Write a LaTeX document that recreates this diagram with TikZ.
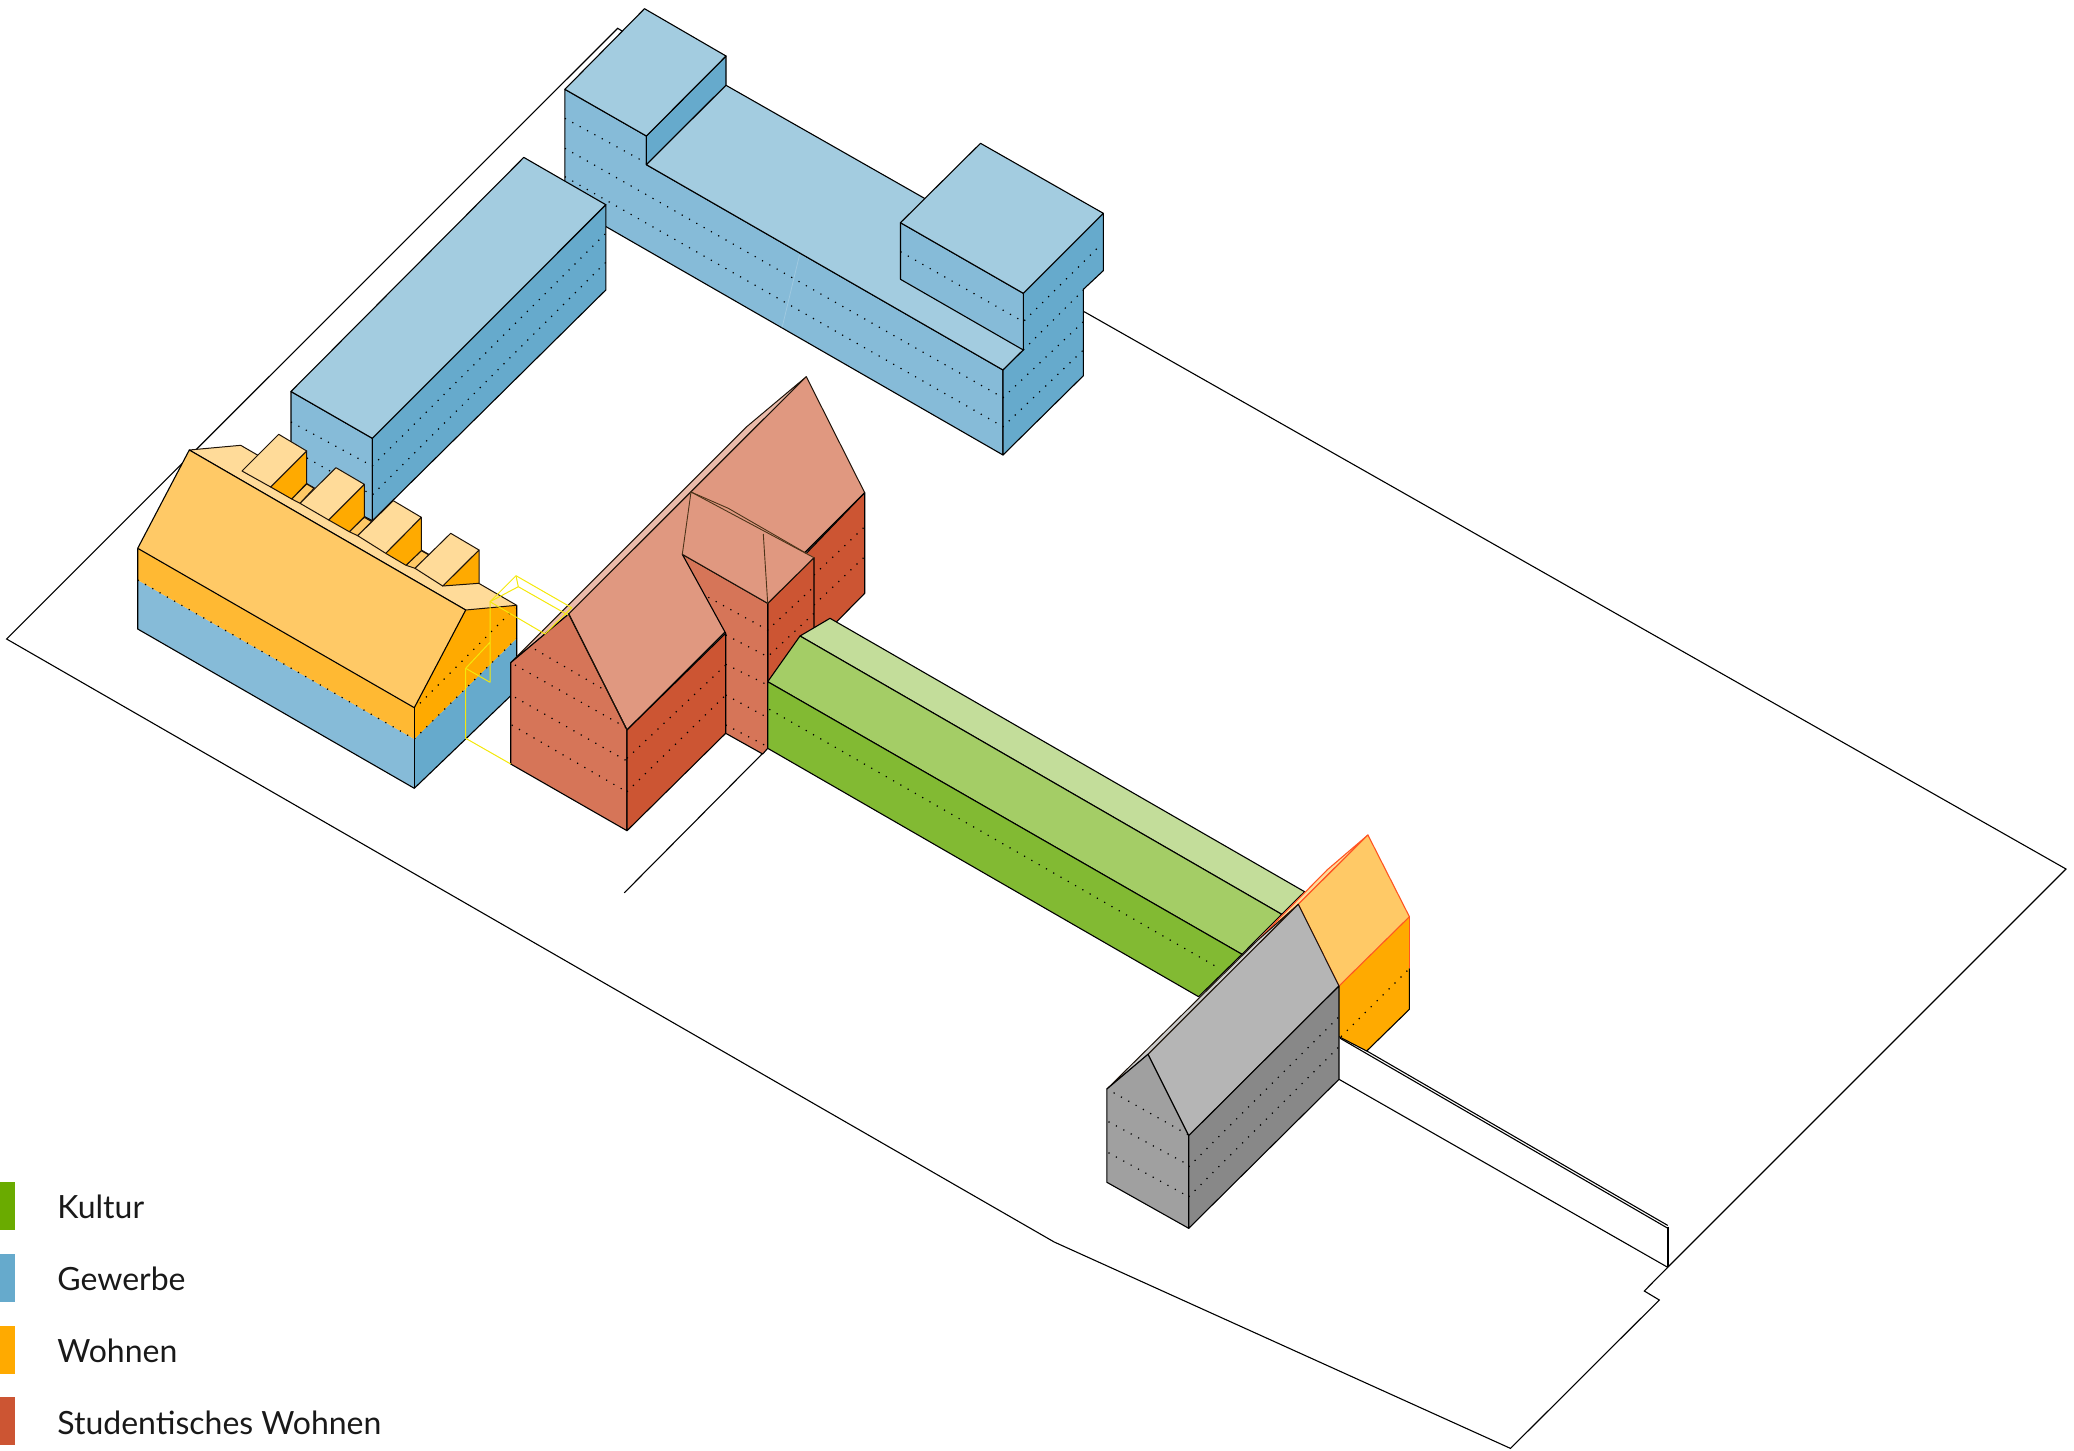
\documentclass[tikz,border=0pt]{standalone}
\usepackage{fontspec}
\setmainfont{Lato}
\definecolor{cBlueF}{HTML}{86BBD8}
\definecolor{cBlueS}{HTML}{66AACC}
\definecolor{cBlueT}{HTML}{A3CCE0}
\definecolor{cOrS}{HTML}{FFAA00}
\definecolor{cOrF}{HTML}{FFB933}
\definecolor{cOrT}{HTML}{FFC966}
\definecolor{cOrL}{HTML}{FFDB99}
\definecolor{cRedS}{HTML}{CC5533}
\definecolor{cRedF}{HTML}{D67558}
\definecolor{cRedT}{HTML}{E09880}
\definecolor{cRedL}{HTML}{EBBBAA}
\definecolor{cGrS}{HTML}{82BA33}
\definecolor{cGrT}{HTML}{A4CD66}
\definecolor{cGrL}{HTML}{C3DD9A}
\definecolor{cGyS}{HTML}{888888}
\definecolor{cGyF}{HTML}{A0A0A0}
\definecolor{cGyT}{HTML}{B5B5B5}
\definecolor{cGyL}{HTML}{CCCCCC}
\definecolor{cKult}{HTML}{6AAB00}
\definecolor{cEdge}{HTML}{FF5522}
\tikzset{
  face/.style={draw=black,line width=.55pt,line join=round},
  softface/.style={draw=black!85!brown,line width=.5pt,line join=round},
  dots/.style={draw=black,line width=.6pt,dash pattern=on .6pt off 3.6pt},
  site/.style={draw=black,line width=.55pt,line join=miter},
  ghost/.style={draw=yellow!95!black,line width=.5pt,line join=round},
  thinbrown/.style={draw=black!60!brown,line width=.45pt},
  swatch/.style={draw=none,minimum width=7.5pt,minimum height=24pt,inner sep=0pt,anchor=north west},
  legend/.style={anchor=base west,inner sep=0pt,font=\fontsize{16}{18}\selectfont,text=black!90}
}
\begin{document}
\begin{tikzpicture}[x=.5pt,y=-.5pt]
\useasboundingbox (0,0) rectangle (2074,1451);
% site
\draw[site] (622,31)--(617.7,28.3)--(6.6,639)--(1054.2,1242)--(1510.5,1448.4)--(1659.3,1300)--(1644.3,1291)--(1667.7,1267.3)--(2066,869)--(1084.2,311.7);
\draw[site] (624.3,892.8)--(762.7,753.3);
% narrow wall
\draw[site] (1339,1079.3)--(1667.7,1267.3);
\draw[site,line width=.9pt] (1667.7,1226.7)--(1667.7,1267.3);
\draw[site] (1340,1035.4)--(1667.7,1225.4);
\draw[site] (1340,1038.2)--(1667.7,1228.2);
% main blue
\path[face,fill=cBlueF] (564.9,89.3)--(646.4,136)--(646.4,164.7)--(1003,370)--(1003,455)--(564.9,203)--cycle;
\draw[draw=white,opacity=.2,line width=.4pt] (799.5,255)--(781.9,328.3);
\path[face,fill=cBlueS] (646.4,136)--(726,56)--(726,85.3)--(646.4,164.7)--cycle;
\path[face,fill=cBlueT] (644.5,8.7)--(726,56)--(646.4,136)--(564.9,89.3)--cycle;
\path[face,fill=cBlueT] (646.4,164.7)--(726,85.3)--(1060,275.5)--(1023.3,350)--(1003,370)--cycle;
\path[face,fill=cBlueS] (1023.3,293.3)--(1103.3,213.3)--(1103.3,270.7)--(1083.4,289.3)--(1083.4,375.7)--(1003,455)--(1003,370)--(1023.3,350)--cycle;
\path[face,fill=cBlueF] (900.5,222.7)--(1023.3,293.3)--(1023.3,350)--(900.5,279.3)--cycle;
\path[face,fill=cBlueT] (980.5,143.3)--(1103.3,213.3)--(1023.3,293.3)--(900.5,222.7)--cycle;
\draw[dots] (564.9,118.3)--(646.4,163);
\draw[dots] (564.9,148.3)--(1003,397.7)--(1083.4,321.7);
\draw[dots] (564.9,176.7)--(1003,426.7)--(1083.4,350);
\draw[dots] (900.5,251.7)--(1023.3,321.7)--(1100.6,245);
\draw[dots] (1023.3,350)--(1083.4,290);
% left blue
\path[face,fill=cBlueF] (291,391.5)--(372.3,438.3)--(372.3,520.7)--(291,478)--cycle;
\path[face,fill=cBlueS] (372.3,438.3)--(605.8,204.7)--(605.8,290)--(372.3,520.7)--cycle;
\path[face,fill=cBlueT] (523.8,157.4)--(605.8,204.7)--(372.3,438.3)--(291,391.5)--cycle;
\draw[dots] (291,422)--(372.3,466)--(605.8,233.3);
\draw[dots] (307,458)--(372.3,495)--(605.8,262.3);
% orange building
\fill[cBlueF] (137.7,580)--(414.3,739)--(414.3,788.3)--(137.7,629)--cycle;
\fill[cBlueS] (414.3,739)--(516.7,638.3)--(516.7,690)--(414.3,788.3)--cycle;
\fill[cOrF] (137.7,548.3)--(414.3,707.7)--(414.3,739)--(137.7,580)--cycle;
\fill[cOrS] (414.3,707.7)--(465.7,610)--(516.7,605.3)--(516.7,638.3)--(414.3,739)--cycle;
\draw[face] (137.7,548.3)--(137.7,629)--(414.3,788.3)--(516.7,690)--(516.7,605.3);
\draw[face] (414.3,707.7)--(414.3,788.3);
\path[softface,fill=cOrL] (189.3,450)--(240.7,445.3)--(516.7,605.3)--(465.7,610)--cycle;
\path[face,fill=cOrT] (189.3,450)--(465.7,610)--(414.3,707.7)--(137.7,548.3)--cycle;
\draw[dots] (137.7,580)--(414.3,739)--(516.7,638.3);
\draw[dots] (420,703.3)--(515,608);
% strips between dormers
\path[softface,fill=cOrT] (291.7,499)--(306.7,484)--(314,488.3)--(300,503.3)--cycle;
\path[softface,fill=cOrT] (349.3,531.7)--(364.3,517.3)--(371.7,521.7)--(357.7,535.7)--cycle;
\path[softface,fill=cOrT] (406,565.3)--(421.3,550.7)--(429,555)--(415,568.3)--cycle;
% dormers
\path[softface,fill=cOrS] (270.7,487)--(306.7,451)--(306.7,483.3)--(291.7,499)--cycle;
\path[softface,fill=cOrL] (242,471)--(278.7,434.3)--(306.7,451)--(270.7,487)--cycle;
\path[softface,fill=cOrS] (328.7,520)--(364.3,484.3)--(364.3,516.7)--(349.3,531.7)--cycle;
\path[softface,fill=cOrL] (300,503.3)--(336,467.7)--(364.3,484.3)--(328.7,520)--cycle;
\path[softface,fill=cOrS] (385.7,553.3)--(421.3,517.3)--(421.3,550.7)--(406,565.3)--cycle;
\path[softface,fill=cOrL] (357.7,535.7)--(393.3,500.7)--(421.3,517.3)--(385.7,553.3)--cycle;
\path[softface,fill=cOrS] (442.7,586)--(479,550)--(479,583.3)--cycle;
\path[softface,fill=cOrL] (415,568.3)--(450.7,533.3)--(479,550)--(442.7,586)--cycle;
% red far part
\path[face,fill=cRedS] (806.3,553.3)--(864.7,492.7)--(864.7,593.3)--(836.7,621.7)--(814,634)--(800,636)--cycle;
\path[softface,fill=cRedL] (510.7,662.7)--(746.7,426.7)--(806.3,376.7)--(568.7,614)--cycle;
\path[softface,fill=cRedT] (568.7,614)--(806.3,376.7)--(864.7,492.7)--(627,730)--cycle;
\draw[face] (864.7,492.7)--(627,730);
\draw[dots] (814,575)--(864.7,526.7);
\draw[dots] (814,605)--(864.7,556.7);
% red front gable
\path[face,fill=cRedF] (510.7,662.7)--(568.7,614)--(627,730)--(627,830.7)--(510.7,764)--cycle;
\path[face,fill=cRedS] (627,730)--(725.7,633.3)--(725.7,733.3)--(627,830.7)--cycle;
\draw[softface] (568.7,614)--(627,730);
\draw[dots] (535,649.3)--(601.7,688.3);
\draw[dots] (515,665)--(627,728);
\draw[dots] (515,697.3)--(627,761);
\draw[dots] (511.7,725)--(627,792);
\draw[dots] (627,758.3)--(725.7,665);
\draw[dots] (627,791.7)--(725.7,695);
% red middle part
\path[face,fill=cRedS] (767.7,603.3)--(814,557.7)--(814,640)--(767.7,690)--cycle;
\path[face,fill=cRedF] (682.3,554.3)--(767.7,603.3)--(767.7,748.3)--(762.7,754)--(725.7,733.3)--(725.7,633.3)--cycle;
\path[fill=cRedT] (691,492)--(814,557.7)--(767.7,603.3)--(682.3,554.3)--cycle;
\draw[softface] (682.3,554.3)--(767.7,603.3)--(814,557.7);
\draw[thinbrown] (682.3,554.3)--(691,492)--(814,557.7);
\draw[thinbrown] (691,492)--(728.3,508.3)--(806.3,553.3);
\draw[thinbrown] (763.3,534)--(767.7,603.3);
\draw[dots] (708.3,597.3)--(767.7,630)--(814,586.7);
\draw[dots] (725.7,635)--(767.7,656.7)--(814,613.3);
\draw[dots] (725.7,664.3)--(767.7,685);
\draw[dots] (725.7,695)--(767.7,717.7);
\draw[dots] (725.7,725)--(767.7,746.7);
% green
\path[face,fill=cGrL] (800,636)--(830,618.3)--(1304.6,891.7)--(1281.7,914.3)--cycle;
\path[face,fill=cGrT] (767.7,681.7)--(800,636)--(1281.7,914.3)--(1242,954.3)--cycle;
\path[face,fill=cGrS] (767.7,681.7)--(1242,954.3)--(1198.6,996.7)--(767.7,748.3)--cycle;
\draw[dots] (769.3,709.3)--(1220.4,969);
% far orange gable
\path[draw=cEdge,line width=.55pt,line join=round,fill=cOrL] (1258,940)--(1327,870)--(1367.9,835)--(1298.3,904.3)--cycle;
\path[fill=cOrS] (1339,986)--(1409.4,916.7)--(1409.4,1009.3)--(1366.7,1051)--(1339,1036.7)--cycle;
\draw[face] (1409.4,968.3)--(1409.4,1009.3)--(1366.7,1051)--(1339,1036.7);
\draw[cEdge,line width=.7pt] (1409.4,968.3)--(1409.4,916.7);
\path[draw=cEdge,line width=.55pt,line join=round,fill=cOrT] (1298.3,904.3)--(1367.9,835)--(1409.4,916.7)--(1339,986)--cycle;
\draw[dots] (1341,1036.7)--(1408,970);
% gray
\path[softface,fill=cGyL] (1106.9,1089)--(1258,940)--(1298.3,904.3)--(1148,1054.3)--cycle;
\path[softface,fill=cGyT] (1148,1054.3)--(1298.3,904.3)--(1339,986)--(1188.7,1135.7)--cycle;
\path[face,fill=cGyF] (1106.9,1089)--(1148,1054.3)--(1188.7,1135.7)--(1188.7,1228.3)--(1106.9,1182.3)--cycle;
\path[face,fill=cGyS] (1188.7,1135.7)--(1339,986)--(1339,1079.3)--(1188.7,1228.3)--cycle;
\draw[dots] (1113.6,1092.7)--(1188.7,1135);
\draw[dots] (1108.5,1121.7)--(1188.7,1165);
\draw[dots] (1108.5,1152.7)--(1188.7,1196.7);
\draw[dots] (1188.7,1166.7)--(1339,1016.7);
\draw[dots] (1188.7,1196.7)--(1339,1046.7);
% yellow ghost outline
\draw[ghost] (490,601.7)--(516,575.7)--(571.7,607.7)--(545,634);
\draw[ghost] (516,575.7)--(518.3,586.7)--(490,601.7);
\draw[ghost] (518.3,586.7)--(568,615);
\draw[ghost] (490,601.7)--(545,634);
\draw[ghost] (490,601.7)--(490,682.3)--(465.7,668.3)--(490,642.3);
\draw[ghost] (465.7,668.3)--(465.7,738.3)--(510.7,764);
% legend
\node[swatch,fill=cKult] (s1) at (0,1182) {};
\node[swatch,fill=cBlueS] (s2) at (0,1254) {};
\node[swatch,fill=cOrS] (s3) at (0,1326) {};
\node[swatch,fill=cRedS] (s4) at (0,1397) {};
\node[legend] (t1) at (57,1218) {Kultur};
\node[legend] (t2) at (57,1290) {Gewerbe};
\node[legend] (t3) at (57,1362) {Wohnen};
\node[legend] (t4) at (57,1434) {Studentisches Wohnen};
\end{tikzpicture}
\end{document}
